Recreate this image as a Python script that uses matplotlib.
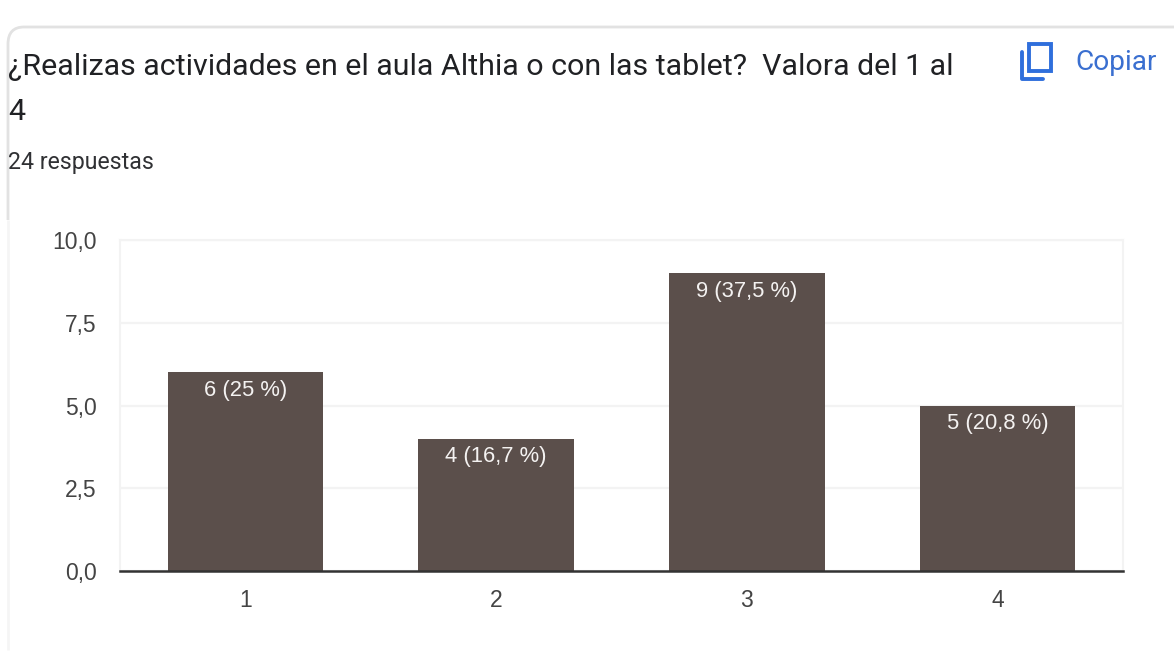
import matplotlib
matplotlib.use("Agg")
import matplotlib.pyplot as plt
from matplotlib.patches import PathPatch, Rectangle
from matplotlib.path import Path

categories = ["1", "2", "3", "4"]
values = [6, 4, 9, 5]
percent_labels = ["6 (25 %)", "4 (16,7 %)", "9 (37,5 %)", "5 (20,8 %)"]
y_ticks = [0, 2.5, 5, 7.5, 10]
y_labels = ["0,0", "2,5", "5,0", "7,5", "10,0"]
title_lines = ["¿Realizas actividades en el aula Althia o con las tablet?  Valora del 1 al", "4"]
subtitle = "24 respuestas"
copy_label = "Copiar"

W, H = 1174, 659
plt.rcParams["font.family"] = ["Roboto", "DejaVu Sans"]
fig = plt.figure(figsize=(W / 100, H / 100), dpi=100, facecolor="white")

# page overlay in pixel coordinates (card border, header text, icon)
bg = fig.add_axes([0, 0, 1, 1])
bg.set_xlim(0, W)
bg.set_ylim(H, 0)
bg.axis("off")

border = Path(
    [(8, 220), (8, 44), (8, 27), (24, 27), (1174, 27)],
    [Path.MOVETO, Path.LINETO, Path.CURVE3, Path.CURVE3, Path.LINETO],
)
bg.add_patch(PathPatch(border, fill=False, edgecolor="#e2e2e2", lw=2))
bg.plot([8, 8], [220, 650], color="#f5f5f5", lw=2, solid_capstyle="butt")

bg.text(8, 67, title_lines[0], fontsize=21.9, color="#202124", va="center", ha="left")
bg.text(8, 112, title_lines[1], fontsize=21.9, color="#202124", va="center", ha="left")
bg.text(8, 162, subtitle, fontsize=16.7, color="#303134", va="center", ha="left")
bg.text(1075, 62, copy_label, fontsize=20.2, color="#3a6fd0", va="center", ha="left")

# copy icon
bg.add_patch(Rectangle((1029, 44), 22, 27, fill=False, edgecolor="#2f6fdc", lw=2.8))
bg.plot([1022, 1022, 1043], [52, 79, 79], color="#2f6fdc", lw=2.8,
        solid_capstyle="round", solid_joinstyle="round")

# chart
ax = fig.add_axes([120 / W, 1 - 571 / H, 1003 / W, 331 / H])
ax.set_xlim(0.5, 4.5)
ax.set_ylim(0, 10)
ax.patch.set_alpha(0)
xs = list(range(1, len(categories) + 1))
ax.bar(xs, values, width=0.62, color="#5b4f4b", zorder=3)
for x, v, lab in zip(xs, values, percent_labels):
    ax.annotate(lab, (x, v), xytext=(0, -18), textcoords="offset pixels",
                ha="center", va="center", color="#f4f2f1", fontsize=15.8,
                family=["Liberation Sans", "DejaVu Sans"], zorder=4)

ax.set_yticks(y_ticks)
ax.set_yticklabels(y_labels)
ax.set_xticks(xs)
ax.set_xticklabels(categories)
ax.tick_params(axis="both", length=0, labelsize=16.5, labelcolor="#444444")
ax.tick_params(axis="x", pad=13)
ax.tick_params(axis="y", pad=17)
for lab in ax.get_xticklabels() + ax.get_yticklabels():
    lab.set_family(["Liberation Sans", "DejaVu Sans"])
ax.grid(axis="y", color="#f3f3f3", lw=1.6, zorder=0)
ax.set_axisbelow(True)
for side in ("top", "right", "left"):
    ax.spines[side].set_color("#f3f3f3")
    ax.spines[side].set_linewidth(1.5)
ax.spines["bottom"].set_color("#333333")
ax.spines["bottom"].set_linewidth(1.8)
ax.spines["bottom"].set_zorder(5)

fig.savefig("out.png", dpi=100)
